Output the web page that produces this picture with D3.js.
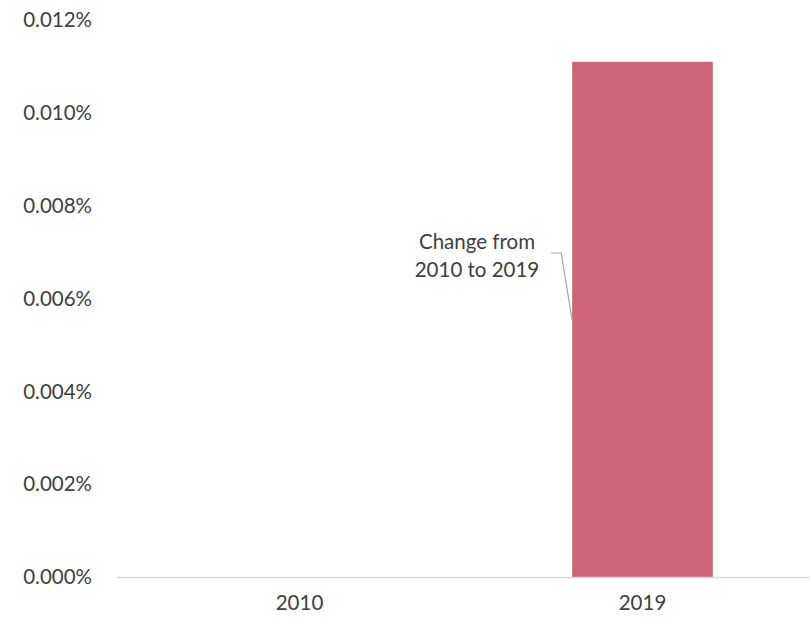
<!DOCTYPE html>
<html><head><meta charset="utf-8">
<script src="https://cdn.jsdelivr.net/npm/d3@7"></script>
<style>body{margin:0;background:#fff}svg{display:block}text{font-family:Lato,"Open Sans",sans-serif;fill:#404040}</style>
</head><body><svg width="810" height="620"></svg>
<script>
const categories = ["2010", "2019"];
const values = [0, 0.000111];
const yTicks = [0, 0.00002, 0.00004, 0.00006, 0.00008, 0.0001, 0.00012];
const annotationLines = ["Change from", "2010 to 2019"];

const svg = d3.select("svg");
const x = d3.scaleBand().domain(categories).range([128, 814]).paddingInner(0.59).paddingOuter(0.295);
const y = d3.scaleLinear().domain([0, 0.00012]).range([577, 20]);
const fmt = d => (d*100).toFixed(3) + "%";
const fs = "20.5px";

// y tick labels
svg.append("g").selectAll("text").data(yTicks).join("text")
  .attr("x", 92).attr("y", d => y(d)).attr("dy", "0.35em")
  .attr("text-anchor", "end").style("font-size", fs).text(fmt);

// bars
svg.append("g").selectAll("rect").data(categories.map((c,i)=>({c, v: values[i]}))).join("rect")
  .attr("x", d => x(d.c)).attr("width", x.bandwidth())
  .attr("y", d => y(d.v)).attr("height", d => y(0) - y(d.v))
  .attr("fill", "#cf6577");

// baseline
svg.append("line").attr("x1", 117).attr("x2", 810).attr("y1", y(0)+0.5).attr("y2", y(0)+0.5)
  .attr("stroke", "#d9d9d9").attr("stroke-width", 1.5);

// x labels
svg.append("g").selectAll("text").data(categories).join("text")
  .attr("x", d => x(d) + x.bandwidth()/2).attr("y", 610)
  .attr("text-anchor", "middle").style("font-size", fs).text(d => d);

// annotation
const bx = x("2019");
svg.append("path")
  .attr("d", `M${bx-21},253 L${bx-11},253 L${bx},${y(values[1]*0.5)+1}`)
  .attr("fill", "none").attr("stroke", "#a6a6a6").attr("stroke-width", 1.2);
svg.append("g").selectAll("text").data(annotationLines).join("text")
  .attr("x", 477).attr("y", (d,i) => 249 + i*28)
  .attr("text-anchor", "middle").style("font-size", fs).text(d => d);
</script></body></html>
